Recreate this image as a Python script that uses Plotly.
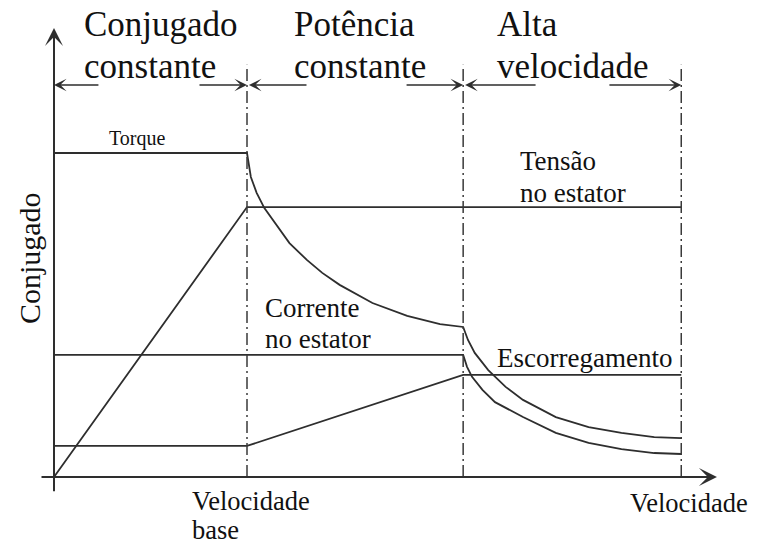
import plotly.graph_objects as go

# ---- data (speed in p.u. of base speed, quantities in p.u.) ----
region_bounds = [0.0, 1.0, 2.12, 3.25]

torque_x = [0.0, 1.0, 1.02, 1.05, 1.09, 1.14, 1.22, 1.31, 1.39, 1.48, 1.65, 1.83, 2.0, 2.12,
            2.145, 2.18, 2.25, 2.34, 2.43, 2.60, 2.77, 2.94, 3.11, 3.25]
torque_y = [1.0, 1.0, 0.926, 0.877, 0.830, 0.787, 0.722, 0.670, 0.630, 0.593, 0.537, 0.497, 0.472, 0.463,
            0.423, 0.383, 0.330, 0.278, 0.238, 0.185, 0.154, 0.136, 0.123, 0.120]

voltage_x = [0.0, 1.0, 3.25]
voltage_y = [0.0, 0.833, 0.833]

current_x = [0.0, 2.12, 2.14, 2.166, 2.22, 2.285, 2.43, 2.60, 2.77, 2.94, 3.11, 3.25]
current_y = [0.377, 0.377, 0.340, 0.309, 0.269, 0.231, 0.185, 0.136, 0.105, 0.086, 0.074, 0.071]

slip_x = [0.0, 1.0, 2.12, 3.25]
slip_y = [0.096, 0.096, 0.315, 0.315]

region_titles = [("Conjugado", "constante"), ("Potência", "constante"), ("Alta", "velocidade")]

LINE = "#2e2e2e"
TXT = "#111111"
FONT = "Liberation Serif, Times New Roman, Times, serif"

fig = go.Figure()
for xs, ys in [(torque_x, torque_y), (voltage_x, voltage_y), (current_x, current_y), (slip_x, slip_y)]:
    fig.add_trace(go.Scatter(x=xs, y=ys, mode="lines", line=dict(color=LINE, width=1.8),
                             hoverinfo="skip", showlegend=False))

shapes = []
for b in region_bounds[1:]:
    shapes.append(dict(type="line", xref="x", yref="y", x0=b, x1=b, y0=0, y1=1.272,
                       line=dict(color="#3a3a3a", width=1.5, dash="12px,4px,2px,4px")))

ann = []
# axes with arrows
ann.append(dict(x=3.435, y=0, ax=-0.0725, ay=0, xref="x", yref="y", axref="x", ayref="y",
                showarrow=True, arrowhead=3, arrowsize=1.5, arrowwidth=2, arrowcolor=LINE, text=""))
ann.append(dict(x=0, y=1.386, ax=0, ay=-0.049, xref="x", yref="y", axref="x", ayref="y",
                showarrow=True, arrowhead=3, arrowsize=1.5, arrowwidth=2, arrowcolor=LINE, text=""))

# region span arrows
arrow_y = 1.21
span_arrows = [(0.238, 0.0), (0.746, 1.0), (1.316, 1.01), (1.819, 2.12), (2.503, 2.13), (2.870, 3.25)]
for tail, tip in span_arrows:
    ann.append(dict(x=tip, y=arrow_y, ax=tail, ay=arrow_y, xref="x", yref="y", axref="x", ayref="y",
                    showarrow=True, arrowhead=3, arrowsize=1.4, arrowwidth=1.5, arrowcolor=LINE, text=""))

def label(text, x, y, size, angle=0, xanchor="left"):
    ann.append(dict(text=text, x=x, y=y, xref="x", yref="y", showarrow=False, xanchor=xanchor,
                    yanchor="middle", textangle=angle, font=dict(family=FONT, size=size, color=TXT)))

title_x = [0.145, 1.233, 2.285]
for (l1, l2), tx in zip(region_titles, title_x):
    label(l1, tx, 1.398, 35)
    label(l2, tx, 1.268, 35)

label("Torque", 0.275, 1.044, 20)
label("Tensão", 2.404, 0.976, 27)
label("no estator", 2.404, 0.877, 27)
label("Corrente", 1.083, 0.522, 27)
label("no estator", 1.083, 0.426, 27)
label("Escorregamento", 2.285, 0.368, 27)
label("Velocidade", 0.705, -0.0728, 26.5)
label("base", 0.705, -0.1639, 26.5)
label("Velocidade", 2.974, -0.080, 26.5)
label("Conjugado", -0.124, 0.676, 30, angle=-90, xanchor="center")

fig.update_layout(
    width=757, height=545, margin=dict(l=0, r=0, t=0, b=0),
    paper_bgcolor="white", plot_bgcolor="white", showlegend=False,
    xaxis=dict(range=[-0.2798, 3.6425], visible=False, fixedrange=True),
    yaxis=dict(range=[-0.2099, 1.4722], visible=False, fixedrange=True),
    shapes=shapes, annotations=ann,
)

fig.write_html("out.html", config={"displayModeBar": False},
               post_script="document.body.style.margin='0px';")
